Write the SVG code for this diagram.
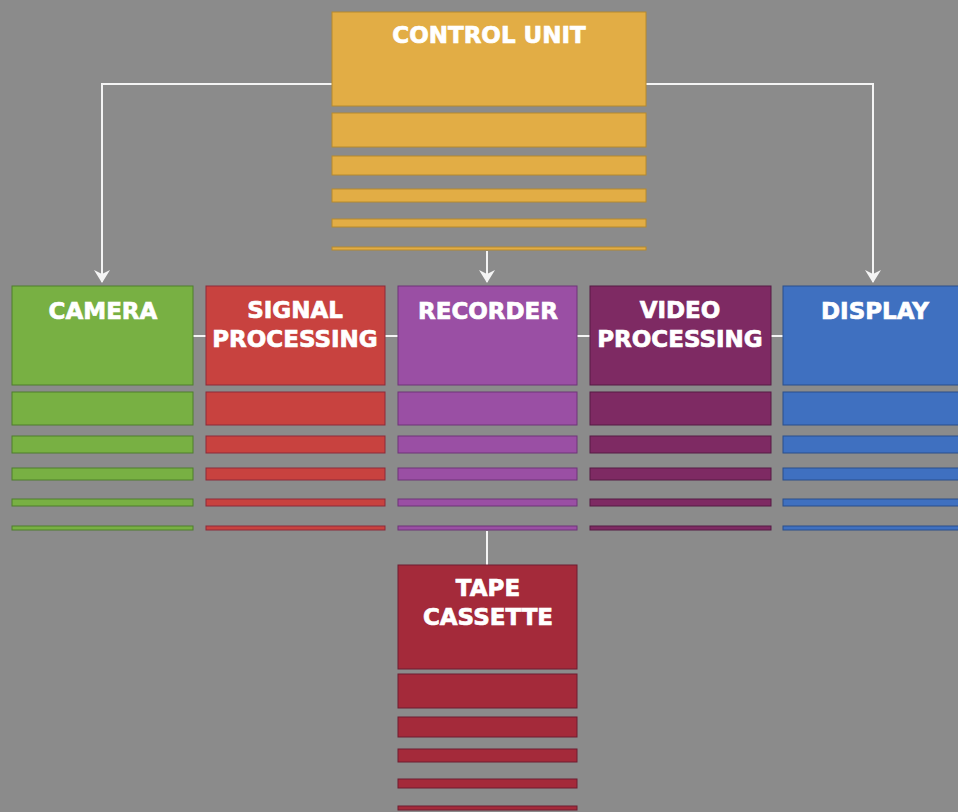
<svg xmlns="http://www.w3.org/2000/svg" width="958" height="812" viewBox="0 0 958 812">
<defs>
<style>
.lbl{font-family:"DejaVu Sans",sans-serif;font-weight:bold;font-size:23px;fill:#fff;stroke:#fff;stroke-width:0.7;text-anchor:middle}
.ln{stroke:#f4f4f4;stroke-width:2;fill:none}
.cu rect{fill:#e2ad45;stroke:#b68a2e;stroke-width:1}
.cam rect{fill:#78b043;stroke:#4e7f2c;stroke-width:1}
.sig rect{fill:#c8423f;stroke:#8d2a3a;stroke-width:1}
.rec rect{fill:#9a4fa4;stroke:#6e3478;stroke-width:1}
.vid rect{fill:#7e2a63;stroke:#561a45;stroke-width:1}
.dis rect{fill:#3f70c0;stroke:#2b4f8c;stroke-width:1}
.tap rect{fill:#a42a3a;stroke:#6e1c30;stroke-width:1}
</style>
<marker id="ah" viewBox="0 0 13 16" refX="12" refY="8" markerWidth="13" markerHeight="16" markerUnits="userSpaceOnUse" orient="auto">
<path d="M0,0 L13,8 L0,16 L4,8 z" fill="#f4f4f4"/>
</marker>
</defs>
<rect width="958" height="812" fill="#8b8b8b"/>
<g id="connectors">
<path class="ln" d="M332,84 H102 V282" marker-end="url(#ah)"/>
<path class="ln" d="M646,84 H873 V282" marker-end="url(#ah)"/>
<path class="ln" d="M487,251 V282" marker-end="url(#ah)"/>
<path class="ln" d="M193,336 H206 M385,336 H398 M577,336 H590 M771,336 H783"/>
<path class="ln" d="M487,531 V565"/>
</g>
<g id="control-unit" class="cu">
<rect x="332" y="12" width="314" height="94"/>
<rect x="332" y="113" width="314" height="34"/>
<rect x="332" y="156" width="314" height="19"/>
<rect x="332" y="189" width="314" height="13"/>
<rect x="332" y="219" width="314" height="8"/>
<rect x="332" y="247" width="314" height="3"/>
<text class="lbl" x="489" y="43">CONTROL UNIT</text>
</g>
<g id="camera" class="cam">
<rect x="12" y="286" width="181" height="99"/>
<rect x="12" y="392" width="181" height="33"/>
<rect x="12" y="436" width="181" height="17"/>
<rect x="12" y="468" width="181" height="12"/>
<rect x="12" y="499" width="181" height="7"/>
<rect x="12" y="526" width="181" height="4"/>
<text class="lbl" x="103" y="319">CAMERA</text>
</g>
<g id="signal-processing" class="sig">
<rect x="206" y="286" width="179" height="99"/>
<rect x="206" y="392" width="179" height="33"/>
<rect x="206" y="436" width="179" height="17"/>
<rect x="206" y="468" width="179" height="12"/>
<rect x="206" y="499" width="179" height="7"/>
<rect x="206" y="526" width="179" height="4"/>
<text class="lbl" x="295" y="318">SIGNAL</text>
<text class="lbl" x="295" y="347">PROCESSING</text>
</g>
<g id="recorder" class="rec">
<rect x="398" y="286" width="179" height="99"/>
<rect x="398" y="392" width="179" height="33"/>
<rect x="398" y="436" width="179" height="17"/>
<rect x="398" y="468" width="179" height="12"/>
<rect x="398" y="499" width="179" height="7"/>
<rect x="398" y="526" width="179" height="4"/>
<text class="lbl" x="488" y="319">RECORDER</text>
</g>
<g id="video-processing" class="vid">
<rect x="590" y="286" width="181" height="99"/>
<rect x="590" y="392" width="181" height="33"/>
<rect x="590" y="436" width="181" height="17"/>
<rect x="590" y="468" width="181" height="12"/>
<rect x="590" y="499" width="181" height="7"/>
<rect x="590" y="526" width="181" height="4"/>
<text class="lbl" x="680" y="318">VIDEO</text>
<text class="lbl" x="680" y="347">PROCESSING</text>
</g>
<g id="display" class="dis">
<rect x="783" y="286" width="184" height="99"/>
<rect x="783" y="392" width="184" height="33"/>
<rect x="783" y="436" width="184" height="17"/>
<rect x="783" y="468" width="184" height="12"/>
<rect x="783" y="499" width="184" height="7"/>
<rect x="783" y="526" width="184" height="4"/>
<text class="lbl" x="875" y="319">DISPLAY</text>
</g>
<g id="tape-cassette" class="tap">
<rect x="398" y="565" width="179" height="104"/>
<rect x="398" y="674" width="179" height="34"/>
<rect x="398" y="717" width="179" height="20"/>
<rect x="398" y="749" width="179" height="13"/>
<rect x="398" y="779" width="179" height="9"/>
<rect x="398" y="806" width="179" height="4"/>
<text class="lbl" x="488" y="596">TAPE</text>
<text class="lbl" x="488" y="625">CASSETTE</text>
</g>
</svg>
